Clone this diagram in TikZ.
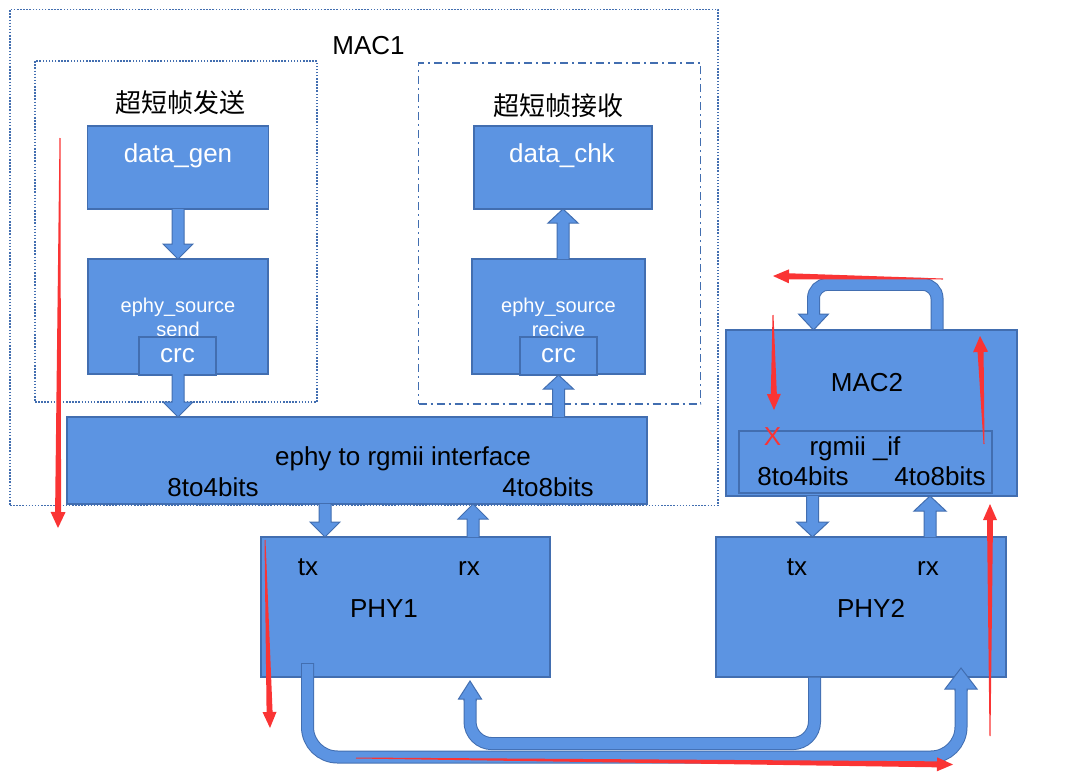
\documentclass[tikz,border=0pt]{standalone}
\usepackage{fontspec}
\setmainfont{Liberation Sans}
\newfontfamily\cjkfont{Noto Sans CJK SC}
\usepackage{xcolor}
\usetikzlibrary{calc,positioning}

\definecolor{boxfill}{RGB}{92,148,226}
\definecolor{boxedge}{RGB}{66,110,176}
\definecolor{markred}{RGB}{250,52,52}

\newcommand\fs[1]{\fontsize{#1}{#1}\selectfont}

% block arrow: from, to, head half width, head length
\newcommand\blkarrow[4]{%
  \coordinate (ha) at #1; \coordinate (hz) at #2;
  \coordinate (hb) at ($(hz)!#4!(ha)$);
  \filldraw[fill=boxfill, draw=boxedge, line width=1pt]
    ($(ha)!6pt!90:(hz)$) -- ($(hb)!6pt!90:(hz)$) -- ($(hb)!#3!90:(hz)$) -- (hz)
    -- ($(hb)!#3!-90:(hz)$) -- ($(hb)!6pt!-90:(hz)$) -- ($(ha)!6pt!-90:(hz)$);}

% red hand-drawn mark: from, to, head half width
\newcommand\redmark[3]{%
  \coordinate (ra) at #1; \coordinate (rz) at #2;
  \coordinate (rb) at ($(rz)!16pt!(ra)$);
  \fill[markred] ($(ra)!0.5pt!90:(rz)$) -- ($(rb)!3pt!90:(rz)$) -- ($(rb)!#3!90:(rz)$) -- (rz)
    -- ($(rb)!#3!-90:(rz)$) -- ($(rb)!3pt!-90:(rz)$) -- ($(ra)!0.5pt!-90:(rz)$) -- cycle;}

\begin{document}
\begin{tikzpicture}[x=1pt, y=-1pt,
    blk/.style={draw=boxedge, fill=boxfill, line width=1.2pt, inner sep=0pt, outer sep=0pt},
    frame/.style={draw=boxedge, line width=1.4pt, inner sep=0pt, outer sep=0pt},
    wtxt/.style={text=white, anchor=base, inner sep=0pt},
    btxt/.style={text=black, anchor=base, inner sep=0pt},
    pipe/.style={draw=boxedge, line width=1pt, double=boxfill, double distance=11pt}]

    \useasboundingbox (0,0) rectangle (1080,779);

    % MAC1 frame
    \node[frame, dash pattern=on 1.5pt off 1.6pt, minimum width=708pt, minimum height=496pt] (mac1) at (364,257.5) {};
    \node[btxt, font=\fs{26}] (mac1txt) at (368.5,54) {MAC1};

    % send / receive groups
    \node[frame, dash pattern=on 1.5pt off 1.6pt, minimum width=282pt, minimum height=341pt] (sendgrp) at (176,231.5) {};
    \node[frame, dash pattern=on 8pt off 4pt on 2pt off 4pt, minimum width=282pt, minimum height=341pt] (recvgrp) at (559.5,233.5) {};
    \node[font=\cjkfont\fs{26}] (sendtxt) at (180,102.5) {超短帧发送};
    \node[font=\cjkfont\fs{26}] (recvtxt) at (558,105.5) {超短帧接收};

    % send path blocks
    \node[blk, minimum width=181pt, minimum height=83pt] (gen) at (178,167.5) {};
    \node[wtxt, font=\fs{26}] (gentxt) at (178,162) {data\_gen};
    \node[blk, minimum width=180pt, minimum height=115pt] (send) at (178,316.5) {};
    \node[wtxt, font=\fs{20}] (sendtxt1) at (178,312) {ephy\_source};
    \node[wtxt, font=\fs{20}] (sendtxt2) at (178,336) {send};
    \node[blk, text=white, font=\fs{26}, minimum width=77pt, minimum height=38pt] (scrc) at (177.5,356) {crc};

    % receive path blocks
    \node[blk, minimum width=178pt, minimum height=83pt] (chk) at (563,167.5) {};
    \node[wtxt, font=\fs{26}] (chktxt) at (562,162) {data\_chk};
    \node[blk, minimum width=173pt, minimum height=115pt] (recv) at (558.5,316.5) {};
    \node[wtxt, font=\fs{20}] (recvtxt1) at (558.5,312) {ephy\_source};
    \node[wtxt, font=\fs{20}] (recvtxt2) at (558.5,336) {recive};
    \node[blk, text=white, font=\fs{26}, minimum width=77pt, minimum height=38pt] (rcrc) at (558.5,356) {crc};

    % ephy to rgmii
    \node[blk, minimum width=580pt, minimum height=87pt] (iface) at (357,460.5) {};
    \node[btxt, font=\fs{26}] (ifacetxt) at (403,465) {ephy to rgmii interface};
    \node[btxt, font=\fs{26}] (iftx) at (213,496) {8to4bits};
    \node[btxt, font=\fs{26}] (ifrx) at (548,496) {4to8bits};

    % MAC2
    \node[blk, minimum width=291pt, minimum height=166pt] (mac2) at (871.5,413) {};
    \node[btxt, font=\fs{26}] (mac2txt) at (867,391) {MAC2};
    \node[blk, minimum width=253pt, minimum height=62pt] (rgmii) at (865.5,462) {};
    \node[btxt, font=\fs{26}] (rgmiitxt) at (855,455) {rgmii \_if};
    \node[btxt, font=\fs{26}] (m2tx) at (803,485) {8to4bits};
    \node[btxt, font=\fs{26}] (m2rx) at (940,485) {4to8bits};

    % PHYs
    \node[blk, minimum width=289pt, minimum height=140pt] (phy1) at (405.5,607) {};
    \node[btxt, font=\fs{26}] (phy1tx) at (308,575) {tx};
    \node[btxt, font=\fs{26}] (phy1rx) at (469,575) {rx};
    \node[btxt, font=\fs{26}] (phy1txt) at (384,617) {PHY1};
    \node[blk, minimum width=290pt, minimum height=140pt] (phy2) at (861,607) {};
    \node[btxt, font=\fs{26}] (phy2tx) at (797,575) {tx};
    \node[btxt, font=\fs{26}] (phy2rx) at (928,575) {rx};
    \node[btxt, font=\fs{26}] (phy2txt) at (871,617) {PHY2};

    % ports
    \coordinate (p1in) at ($(phy1.north west)+(64,0)$);
    \coordinate (p1out) at ($(phy1.north west)+(212,0)$);
    \coordinate (p2in) at ($(phy2.north west)+(96.5,0)$);
    \coordinate (p2out) at ($(phy2.north west)+(214,0)$);

    % straight block arrows
    \blkarrow{(gen.south)}{(gen.south |- send.north)}{15pt}{15pt}
    \blkarrow{(send.south)}{(send.south |- iface.north)}{15pt}{15pt}
    \blkarrow{(rcrc.south |- iface.north)}{(rcrc.south)}{15pt}{14pt}
    \blkarrow{(chk.south |- recv.north)}{(chk.south)}{15pt}{14pt}
    \blkarrow{(p1in |- iface.south)}{(p1in)}{15pt}{15pt}
    \blkarrow{(p1out)}{(p1out |- iface.south)}{15pt}{15pt}
    \blkarrow{(p2in |- mac2.south)}{(p2in)}{16pt}{15pt}
    \blkarrow{(p2out)}{(p2out |- mac2.south)}{16pt}{15pt}

    % MAC2 loop back
    \coordinate (loopa) at ($(mac2.north west)+(211,-0.6)$);
    \coordinate (loopz) at ($(mac2.north west)+(87.5,0)$);
    \draw[pipe, rounded corners=14pt] (loopa) -- ++(0,-45) -| ($(loopz)+(0,-18)$);
    \blkarrow{($(loopz)+(0,-20)$)}{(loopz)}{15pt}{16pt}

    % PHY2 tx -> PHY1 rx
    \coordinate (ina) at ($(phy2.south west)+(98.5,0.6)$);
    \coordinate (inz) at ($(phy1.south west)+(209,4)$);
    \draw[pipe, rounded corners=22pt] (ina) -- ++(0,66) -| ($(inz)+(0,18)$);
    \blkarrow{($(inz)+(0,20)$)}{(inz)}{11.5pt}{18pt}

    % PHY1 tx -> PHY2 rx
    \coordinate (outa) at ($(phy1.south west)+(46.5,-14)$);
    \coordinate (outz) at ($(phy2.south west)+(245,-9)$);
    \draw[pipe, rounded corners=30pt] (outa) -- ++(0,94) -| ($(outz)+(0,21)$);
    \blkarrow{($(outz)+(0,23)$)}{(outz)}{16pt}{21pt}
    \draw[boxedge, line width=1pt] ($(outa)+(-6.5,0)$) -- ($(outa)+(6.5,0)$);

    % red marks
    \coordinate (r1a) at (60,138);   \coordinate (r1z) at (58,528);
    \coordinate (r2a) at (265,540);  \coordinate (r2z) at (270,728);
    \coordinate (r3a) at (356,758);  \coordinate (r3z) at (953,764.5);
    \coordinate (r4a) at (990,736);  \coordinate (r4z) at (990,504);
    \coordinate (r5a) at (984,444);  \coordinate (r5z) at (980,336);
    \coordinate (r6a) at (943,279);  \coordinate (r6z) at (773,276);
    \coordinate (r7a) at (773,315);  \coordinate (r7z) at (774,410);
    \redmark{(r1a)}{(r1z)}{7.5pt}
    \redmark{(r2a)}{(r2z)}{7pt}
    \redmark{(r3a)}{(r3z)}{7pt}
    \redmark{(r4a)}{(r4z)}{7pt}
    \redmark{(r5a)}{(r5z)}{7.5pt}
    \redmark{(r6a)}{(r6z)}{7pt}
    \redmark{(r7a)}{(r7z)}{7pt}
    \node[text=markred, font=\fs{26}, inner sep=0pt] (xmark) at (772.5,437) {X};
\end{tikzpicture}
\end{document}
